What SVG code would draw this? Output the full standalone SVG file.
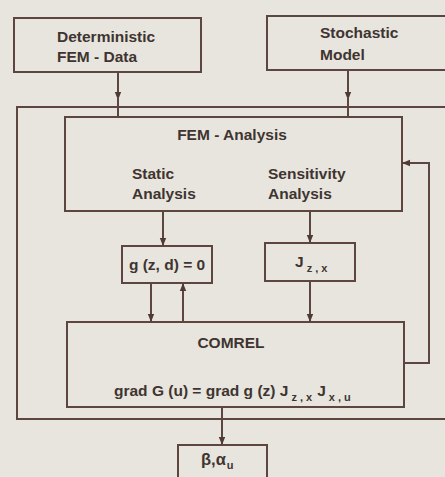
<svg xmlns="http://www.w3.org/2000/svg" width="445" height="477" viewBox="0 0 445 477">
<defs>
<marker id="ah" markerWidth="8" markerHeight="11" refX="10" refY="4" orient="auto" markerUnits="userSpaceOnUse" viewBox="0 0 10 8">
<path d="M0,0 L10,4 L0,8 Z" fill="#4f3a34"/>
</marker>
<style>
.b{fill:none;stroke:#5e4640;stroke-width:2}
.c{fill:none;stroke:#5e4640;stroke-width:2}
.t{font-family:"Liberation Sans",Arial,sans-serif;font-weight:bold;font-size:15.5px;fill:#3f3430}
.s{font-size:11px}
</style>
</defs>
<rect width="445" height="477" fill="#e7e5de"/>
<g id="frame"><path class="c" d="M446,107 H17 V419 H446"/></g>
<g id="det"><rect class="b" x="14" y="18" width="187" height="54"/>
<text class="t" x="57" y="42">Deterministic</text><text class="t" x="57" y="62">FEM - Data</text></g>
<g id="sto"><rect class="b" x="267" y="16" width="190" height="54"/>
<text class="t" x="320" y="38">Stochastic</text><text class="t" x="320" y="60">Model</text></g>
<g id="fem"><rect class="b" x="65" y="117" width="337" height="94"/>
<text class="t" x="232" y="140" text-anchor="middle">FEM - Analysis</text>
<text class="t" x="132" y="179">Static</text><text class="t" x="132" y="199">Analysis</text>
<text class="t" x="268" y="179">Sensitivity</text><text class="t" x="268" y="199">Analysis</text></g>
<g id="g"><rect class="b" x="122" y="246" width="90" height="37"/>
<text class="t" x="167" y="270" text-anchor="middle">g (z, d) = 0</text></g>
<g id="j"><rect class="b" x="265" y="243" width="90" height="38"/>
<text class="t" x="295" y="267">J<tspan class="s" dx="3" dy="5">z , x</tspan></text></g>
<g id="comrel"><rect class="b" x="67" y="322" width="337" height="85"/>
<text class="t" x="231" y="348" text-anchor="middle">COMREL</text>
<text class="t" x="114" y="396">grad G (u) = grad g (z) J<tspan class="s" dx="3" dy="5">z , x</tspan><tspan dx="5" dy="-5">J</tspan><tspan class="s" dx="3" dy="5">x , u</tspan></text></g>
<g id="beta"><rect class="b" x="178" y="445" width="89" height="40"/>
<text class="t" x="201" y="465" style="font-size:16.5px">β,α<tspan class="s" dx="1" dy="4">u</tspan></text></g>
<g id="connectors">
<path class="c" d="M118,72 V100" marker-end="url(#ah)"/><path class="c" d="M118,97 V117"/>
<path class="c" d="M348,70 V100" marker-end="url(#ah)"/><path class="c" d="M348,97 V117"/>
<path class="c" d="M163,211 V246" marker-end="url(#ah)"/>
<path class="c" d="M310,211 V243" marker-end="url(#ah)"/>
<path class="c" d="M151,283 V322" marker-end="url(#ah)"/>
<path class="c" d="M183,322 V283" marker-end="url(#ah)"/>
<path class="c" d="M310,281 V322" marker-end="url(#ah)"/>
<path class="c" d="M222,407 V445" marker-end="url(#ah)"/>
<path class="c" d="M404,363 H429 V163 H402" marker-end="url(#ah)"/>
</g>
</svg>
